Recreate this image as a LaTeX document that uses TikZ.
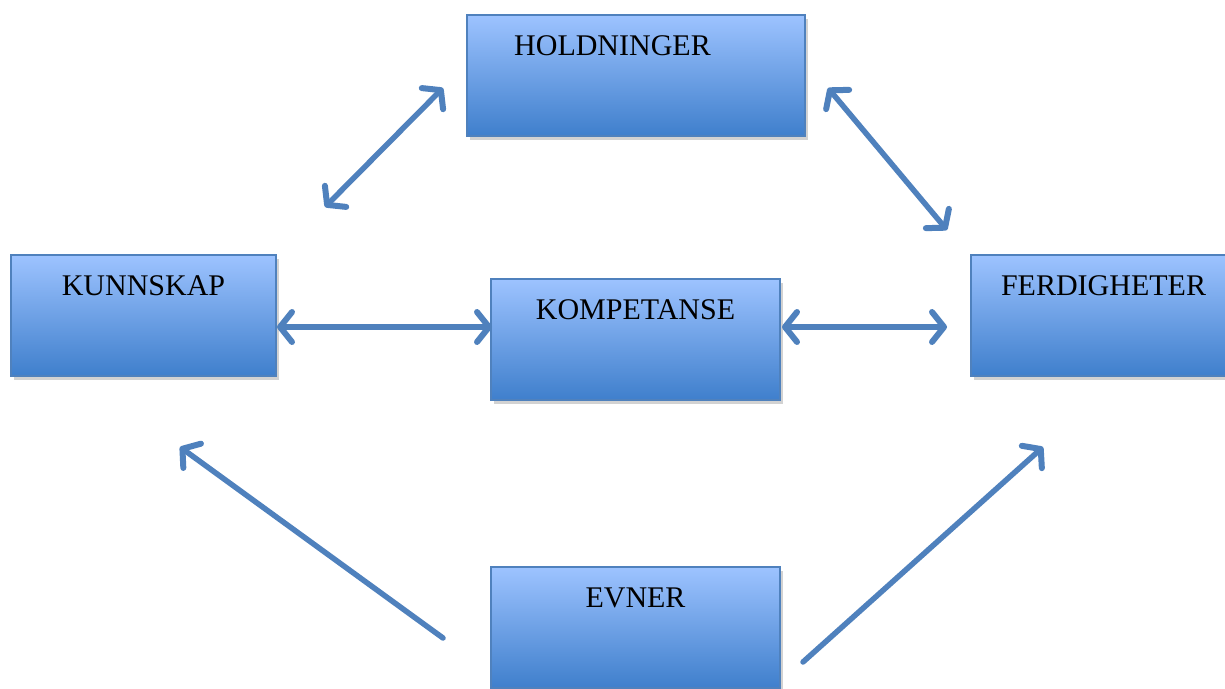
\documentclass[tikz,border=0pt]{standalone}
\usepackage{fontspec}
\setmainfont{Liberation Serif}
\usetikzlibrary{arrows.meta,shadows}
\definecolor{boxtop}{HTML}{9DC3FF}
\definecolor{boxmid}{HTML}{8CB4F4}
\definecolor{boxbot}{HTML}{3F7FCC}
\definecolor{boxline}{HTML}{4F81BD}
\definecolor{arrcol}{HTML}{4F81BD}
\begin{document}
\begin{tikzpicture}[x=1pt,y=-1pt,
  box/.style={draw=boxline, line width=1.2pt, top color=boxtop, middle color=boxmid, bottom color=boxbot,
    minimum height=121pt, inner sep=0pt,
    drop shadow={opacity=0.35, shadow xshift=2.5pt, shadow yshift=-3.5pt}},
  lbl/.style={font=\fontsize{30}{36}\selectfont, anchor=base, inner sep=0pt},
  con/.style={draw=arrcol, line width=5.5pt, line cap=round},
  barb/.tip={Straight Barb[length=12pt, width=30pt, line width=6pt, round]}]
\useasboundingbox (0,0) rectangle (1225,688);
\clip (0,0) rectangle (1225,688);
\fill[white] (0,0) rectangle (1225,688);

% boxes
\node[box, minimum width=338pt] (hold) at (636,75.5) {};
\node[box, minimum width=265pt] (kunn) at (143.5,315.5) {};
\node[box, minimum width=289pt] (komp) at (635.5,339.5) {};
\node[box, minimum width=265pt] (ferd) at (1103.5,315.5) {};
\node[box, minimum width=289pt] (evner) at (635.5,627.5) {};

% labels
\node[lbl] (holdT) at (612.5,55) {HOLDNINGER};
\node[lbl] (kunnT) at (143.5,295.5) {KUNNSKAP};
\node[lbl] (kompT) at (635.5,319) {KOMPETANSE};
\node[lbl] (ferdT) at (1103.5,295.5) {FERDIGHETER};
\node[lbl] (evnerT) at (635.5,607) {EVNER};

% arrow end points
\coordinate (a1a) at (443,88);
\coordinate (a1b) at (325,207);
\coordinate (a2a) at (828,88);
\coordinate (a2b) at (947,230);
\coordinate (a3a) at (277,327);
\coordinate (a3b) at (492,327);
\coordinate (a4a) at (782,327);
\coordinate (a4b) at (947,327);
\coordinate (a5a) at (443,638);
\coordinate (a5b) at (180,447);
\coordinate (a6a) at (803,662);
\coordinate (a6b) at (1043,447);

% connectors
\draw[con, barb-barb] (a1a) -- (a1b);
\draw[con, barb-barb] (a2a) -- (a2b);
\draw[con, barb-barb] (a3a) -- (a3b);
\draw[con, barb-barb] (a4a) -- (a4b);
\draw[con, -barb] (a5a) -- (a5b);
\draw[con, -barb] (a6a) -- (a6b);
\end{tikzpicture}
\end{document}
